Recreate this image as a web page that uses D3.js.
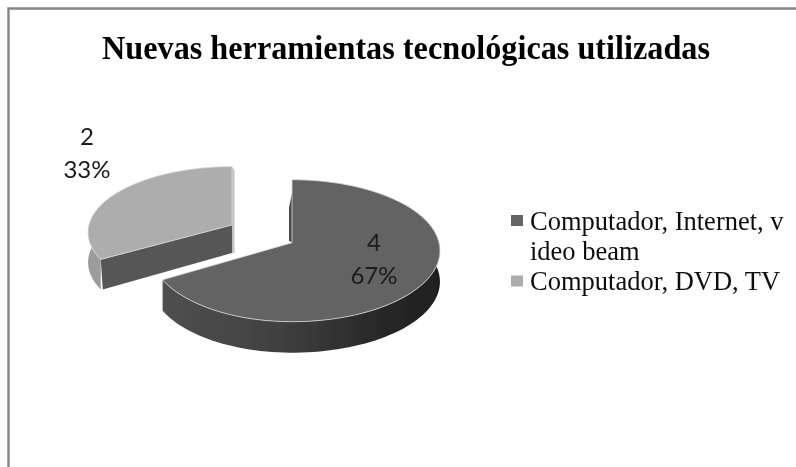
<!DOCTYPE html>
<html><head><meta charset="utf-8">
<script src="https://cdn.jsdelivr.net/npm/d3@7/dist/d3.min.js"></script>
<style>html,body{margin:0;padding:0;background:#fff;overflow:hidden}svg{display:block}</style>
</head><body><script>
const titleText = "Nuevas herramientas tecnológicas utilizadas";
const categories = ["Computador, Internet, video beam", "Computador, DVD, TV"];
const legendLines = [["Computador, Internet, v", "ideo beam"], ["Computador, DVD, TV"]];
const values = [4, 2];
const topColors = ["#646464", "#adadad"];

const W = 796, H = 467, P = 0.1127, DEPTH = 31;
const geo = [
  {cx: 292, cy: 242.7, rr: 147, rl: 141, k: 70.1, wallFrom: 50, wallTo: 240},
  {cx: 232, cy: 225, rr: 144, rl: 143, k: 65, wallFrom: 240, wallTo: 300}
];
const svg = d3.select("body").append("svg").attr("width", W).attr("height", H);
const defs = svg.append("defs");
defs.append("filter").attr("id", "soft").append("feGaussianBlur").attr("stdDeviation", 0.45);
const grad = defs.append("linearGradient").attr("id", "wall").attr("gradientUnits", "userSpaceOnUse");
[[0, "#1f1f1f"], [0.25, "#2a2a2a"], [0.6, "#414141"], [1, "#4f4f4f"]].forEach(s =>
  grad.append("stop").attr("offset", s[0]).attr("stop-color", s[1]));

const arcs = d3.pie().sort(null).startAngle(0).endAngle(2 * Math.PI)(values);
const total = d3.sum(values);
const rad = d3.scaleLinear().domain([0, 360]).range([0, 2 * Math.PI]);

function project(g, a, drop = 0) {
  const u = Math.sin(a), v = -Math.cos(a), s = 1 / (1 - P * v);
  return [g.cx + (u >= 0 ? g.rr : g.rl) * u * s, g.cy + g.k * v * s + drop];
}
function arcPts(g, a0, a1, drop = 0) {
  const n = 90, t = d3.scaleLinear().domain([0, n]).range([a0, a1]);
  return d3.range(n + 1).map(i => project(g, t(i), drop));
}
const line = d3.line().curve(d3.curveLinear);
const chart = svg.append("g").attr("filter", "url(#soft)");

// frame
chart.append("path").attr("d", `M8.5 ${H}V8.5H${W}`).attr("fill", "none").attr("stroke", "#868686").attr("stroke-width", 2.4);

// light slice
{
  const g = geo[1], d = arcs[1];
  const apex = [g.cx, g.cy];
  const wallTop = arcPts(g, rad(g.wallFrom), rad(g.wallTo));
  const wallBot = arcPts(g, rad(g.wallFrom), rad(g.wallTo), DEPTH - 1).reverse();
  chart.append("path").attr("d", line(wallTop.concat(wallBot)) + "Z").attr("fill", "#9c9c9c");
  const top0 = project(g, d.endAngle);
  chart.append("path").attr("d", line([top0, [top0[0] + 2.5, top0[1] + 4], [apex[0] + 2.5, apex[1] + DEPTH - 3], [apex[0], apex[1] + DEPTH - 3]]) + "Z").attr("fill", "#c2c2c2");
  const tip = project(g, d.startAngle);
  chart.append("path").attr("d", line([tip, apex, [apex[0], apex[1] + DEPTH - 3], [tip[0] + 2, tip[1] + DEPTH - 1]]) + "Z").attr("fill", "#565656");
  chart.append("path").attr("d", line([apex].concat(arcPts(g, d.startAngle, d.endAngle))) + "Z")
    .attr("fill", topColors[1]).attr("stroke", "#dcdcdc").attr("stroke-width", 0.8);
}
// dark slice
{
  const g = geo[0], d = arcs[0];
  const apex = [g.cx, g.cy];
  const wallTop = arcPts(g, rad(g.wallFrom), rad(g.wallTo));
  const wallBot = arcPts(g, rad(g.wallFrom), rad(g.wallTo), DEPTH).reverse();
  const wallPts = wallTop.concat(wallBot);
  grad.attr("x1", d3.max(wallPts, p => p[0])).attr("x2", d3.min(wallPts, p => p[0])).attr("y1", 0).attr("y2", 0);
  chart.append("path").attr("d", line(wallPts) + "Z").attr("fill", "url(#wall)");
  chart.append("path").attr("d", line([apex, [apex[0] - 3, apex[1] - 2], [apex[0] - 3, apex[1] - 35], [apex[0], apex[1] - 50]]) + "Z").attr("fill", "#4c4c4c");
  chart.append("path").attr("d", line([apex].concat(arcPts(g, d.startAngle, d.endAngle))) + "Z")
    .attr("fill", topColors[0]).attr("stroke", "#d8d8d8").attr("stroke-width", 0.8);
}

// data labels
const labelAt = [[374, 243], [87, 137]];
arcs.forEach((d, i) => {
  const t = chart.append("text").attr("text-anchor", "middle").attr("font-family", "Lato, 'Open Sans', sans-serif")
    .attr("font-size", 24).attr("fill", "#1a1a1a");
  t.append("tspan").attr("x", labelAt[i][0]).attr("y", labelAt[i][1] + 8).text(d.data);
  t.append("tspan").attr("x", labelAt[i][0]).attr("y", labelAt[i][1] + 41).text(Math.round(d.data / total * 100) + "%");
});

// title
chart.append("text").attr("x", 406).attr("y", 59).attr("text-anchor", "middle")
  .attr("font-family", "'Liberation Serif', serif").attr("font-weight", "bold").attr("font-size", 33.5)
  .attr("textLength", 608).attr("lengthAdjust", "spacingAndGlyphs").attr("fill", "#000").text(titleText);

// legend
const legendTop = [220.5, 281];
const lineY = [[229.5, 260], [290]];
categories.forEach((c, i) => {
  chart.append("rect").attr("x", 511).attr("y", legendTop[i] - 5.5).attr("width", 12).attr("height", 11).attr("fill", topColors[i]);
  legendLines[i].forEach((l, j) => {
    chart.append("text").attr("x", 530).attr("y", lineY[i][j]).attr("font-family", "'Liberation Serif', serif")
      .attr("font-size", 26.5).attr("fill", "#111").text(l);
  });
});
</script></body></html>
